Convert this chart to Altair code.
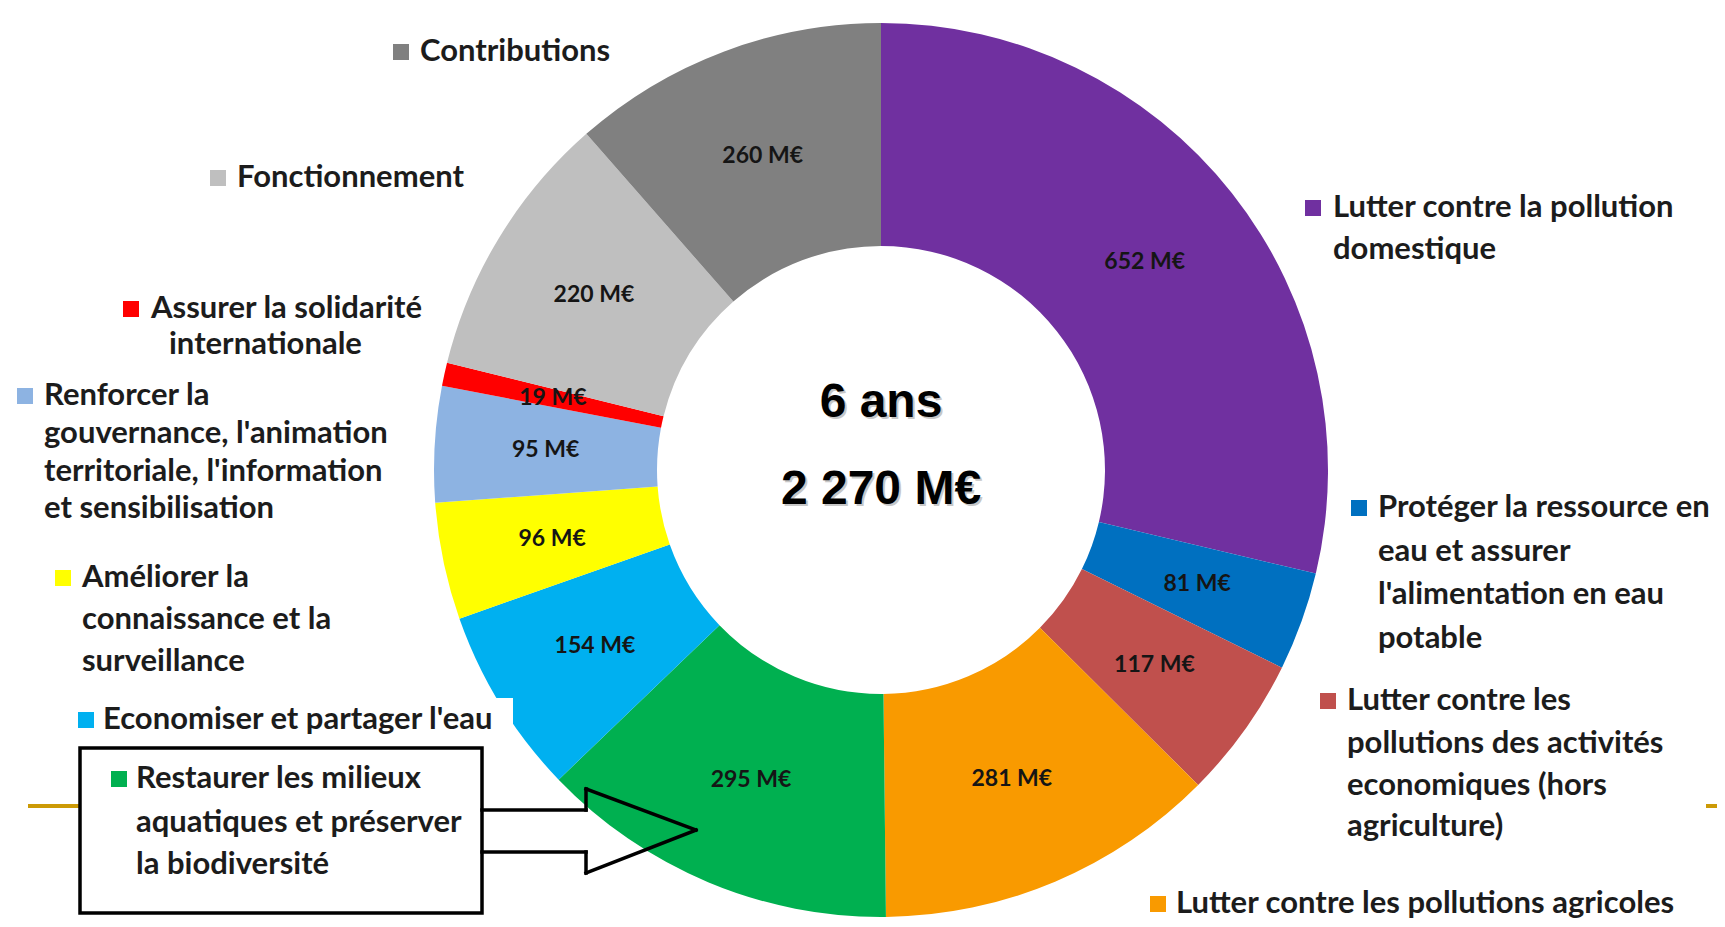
import altair as alt
import pandas as pd

# ---------------- data ----------------
categories = [
    "Lutter contre la pollution domestique",
    "Protéger la ressource en eau et assurer l'alimentation en eau potable",
    "Lutter contre les pollutions des activités economiques (hors agriculture)",
    "Lutter contre les pollutions agricoles",
    "Restaurer les milieux aquatiques et préserver la biodiversité",
    "Economiser et partager l'eau",
    "Améliorer la connaissance et la surveillance",
    "Renforcer la gouvernance, l'animation territoriale, l'information et sensibilisation",
    "Assurer la solidarité internationale",
    "Fonctionnement",
    "Contributions",
]
values = [652, 81, 117, 281, 295, 154, 96, 95, 19, 220, 260]
colors = ["#7030A0", "#0070C0", "#C0504D", "#F99A00", "#00B050", "#00B0F0",
          "#FFFF00", "#8DB3E2", "#FF0000", "#BFBFBF", "#808080"]

center_lines = ["6 ans", "2 270 M€"]

legend_lines = {
    "Contributions": ["Contributions"],
    "Fonctionnement": ["Fonctionnement"],
    "Assurer la solidarité internationale": ["Assurer la solidarité", "internationale"],
    "Renforcer la gouvernance, l'animation territoriale, l'information et sensibilisation":
        ["Renforcer la", "gouvernance, l'animation", "territoriale, l'information", "et sensibilisation"],
    "Améliorer la connaissance et la surveillance": ["Améliorer la", "connaissance et la", "surveillance"],
    "Economiser et partager l'eau": ["Economiser et partager l'eau"],
    "Restaurer les milieux aquatiques et préserver la biodiversité":
        ["Restaurer les milieux", "aquatiques et préserver", "la biodiversité"],
    "Lutter contre la pollution domestique": ["Lutter contre la pollution", "domestique"],
    "Protéger la ressource en eau et assurer l'alimentation en eau potable":
        ["Protéger la ressource en", "eau et assurer", "l'alimentation en eau", "potable"],
    "Lutter contre les pollutions des activités economiques (hors agriculture)":
        ["Lutter contre les", "pollutions des activités", "economiques (hors", "agriculture)"],
    "Lutter contre les pollutions agricoles": ["Lutter contre les pollutions agricoles"],
}

df = pd.DataFrame({
    "categorie": categories,
    "valeur": values,
    "ordre": list(range(len(categories))),
    "etiquette": [f"{v} M€" for v in values],
})

# ---------------- layout (page coordinates -> chart coordinates) ----------------
M = 8  # page margin
def px(v):
    return v - M

CX, CY = px(881), px(470)
R_OUT, R_IN, R_LAB = 447, 224, 336

TXT = "#1c1c1c"
LFONT = "Lato"
LSIZE = 31

one = alt.Data(values=[{"k": 1}])

color_scale = alt.Scale(domain=categories, range=colors)
theta = alt.Theta("valeur:Q", stack=True)
order = alt.Order("ordre:Q", sort="ascending")

donut = alt.Chart(df).mark_arc(outerRadius=R_OUT, innerRadius=R_IN).encode(
    theta=theta,
    color=alt.Color("categorie:N", scale=color_scale, legend=None),
    order=order,
    x=alt.value(CX), y=alt.value(CY),
)

slice_labels = alt.Chart(df).mark_text(
    radius=R_LAB, font=LFONT, fontWeight="bold", fontSize=23, color="#151515",
    align="center", baseline="middle",
).encode(
    theta=theta, order=order, text="etiquette:N",
    x=alt.value(CX), y=alt.value(CY),
)

layers = [donut, slice_labels]

def text_at(s, x, y, size=LSIZE, font=LFONT, weight="bold", color=TXT, align="left", opacity=1.0):
    return alt.Chart(one).mark_text(
        font=font, fontWeight=weight, fontSize=size, color=color, align=align,
        baseline="middle", opacity=opacity,
    ).encode(x=alt.value(px(x)), y=alt.value(px(y)), text=alt.value(s))

def square_at(color, x, y, side=16):
    return alt.Chart(one).mark_square(size=side * side, color=color, opacity=1, filled=True).encode(
        x=alt.value(px(x)), y=alt.value(px(y)))

def rect(x1, y1, x2, y2, fill, stroke=None, sw=0):
    kw = dict(color=fill, opacity=1)
    if stroke:
        kw.update(stroke=stroke, strokeWidth=sw)
    return alt.Chart(one).mark_rect(**kw).encode(
        x=alt.value(px(x1)), x2=alt.value(px(x2)), y=alt.value(px(y1)), y2=alt.value(px(y2)))

def seg(x1, y1, x2, y2, color="#000000", sw=3.5):
    return alt.Chart(one).mark_rule(color=color, strokeWidth=sw, strokeCap="square").encode(
        x=alt.value(px(x1)), x2=alt.value(px(x2)), y=alt.value(px(y1)), y2=alt.value(px(y2)))

cmap = dict(zip(categories, colors))

# legend placement: category -> (square x, text x, list of line centres)
legend_pos = {
    "Contributions": (401, 420, [52]),
    "Fonctionnement": (218, 237, [178]),
    "Assurer la solidarité internationale": (131, 151, [309, 345]),
    "Renforcer la gouvernance, l'animation territoriale, l'information et sensibilisation":
        (25, 44, [396, 434, 472, 509]),
    "Améliorer la connaissance et la surveillance": (63, 82, [578, 620, 662]),
    "Lutter contre la pollution domestique": (1313, 1333, [208, 250]),
    "Protéger la ressource en eau et assurer l'alimentation en eau potable":
        (1359, 1378, [508, 552, 595, 639]),
    "Lutter contre les pollutions des activités economiques (hors agriculture)":
        (1328, 1347, [701, 744, 786, 827]),
    "Lutter contre les pollutions agricoles": (1158, 1176, [904]),
}
line_x_override = {("Assurer la solidarité internationale", 1): 169}

for cat, (sx, tx, ys) in legend_pos.items():
    layers.append(square_at(cmap[cat], sx, ys[0]))
    for i, (line, y) in enumerate(zip(legend_lines[cat], ys)):
        layers.append(text_at(line, line_x_override.get((cat, i), tx), y))

# "Economiser" label with its white background
eco = "Economiser et partager l'eau"
layers.append(rect(66, 698, 513, 736, "#FFFFFF"))
layers.append(square_at(cmap[eco], 86, 720))
layers.append(text_at(legend_lines[eco][0], 103, 720))

# gold slide decorations
layers.append(seg(30, 806, 85, 806, color="#CC9A06", sw=4))
layers.append(seg(1708, 806, 1717, 806, color="#CC9A06", sw=4))

# callout box and arrow
layers.append(rect(80, 748, 482, 913, "#FFFFFF", stroke="#000000", sw=3.5))
arrow = [(482, 810), (586, 810), (586, 789), (696, 830), (586, 873), (586, 852), (482, 852)]
for (a, b) in zip(arrow[:-1], arrow[1:]):
    layers.append(seg(a[0], a[1], b[0], b[1]))

res = "Restaurer les milieux aquatiques et préserver la biodiversité"
layers.append(square_at(cmap[res], 119, 779))
for line, y in zip(legend_lines[res], [779, 823, 865]):
    layers.append(text_at(line, 136, y))

# centre text with soft shadow
for s, y in zip(center_lines, [403, 490]):
    layers.append(text_at(s, 883, y + 2, size=48, font="Liberation Sans", color="#9a9a9a",
                          align="center", opacity=0.55))
    layers.append(text_at(s, 881, y, size=48, font="Liberation Sans", color="#000000",
                          align="center"))

chart = alt.layer(*layers).properties(
    width=1709, height=911, padding=0, autosize=alt.AutoSizeParams(type="none"),
    background="#FFFFFF",
).configure_view(stroke=None)

chart.save("out.html", embed_options={"renderer": "svg", "actions": False})
